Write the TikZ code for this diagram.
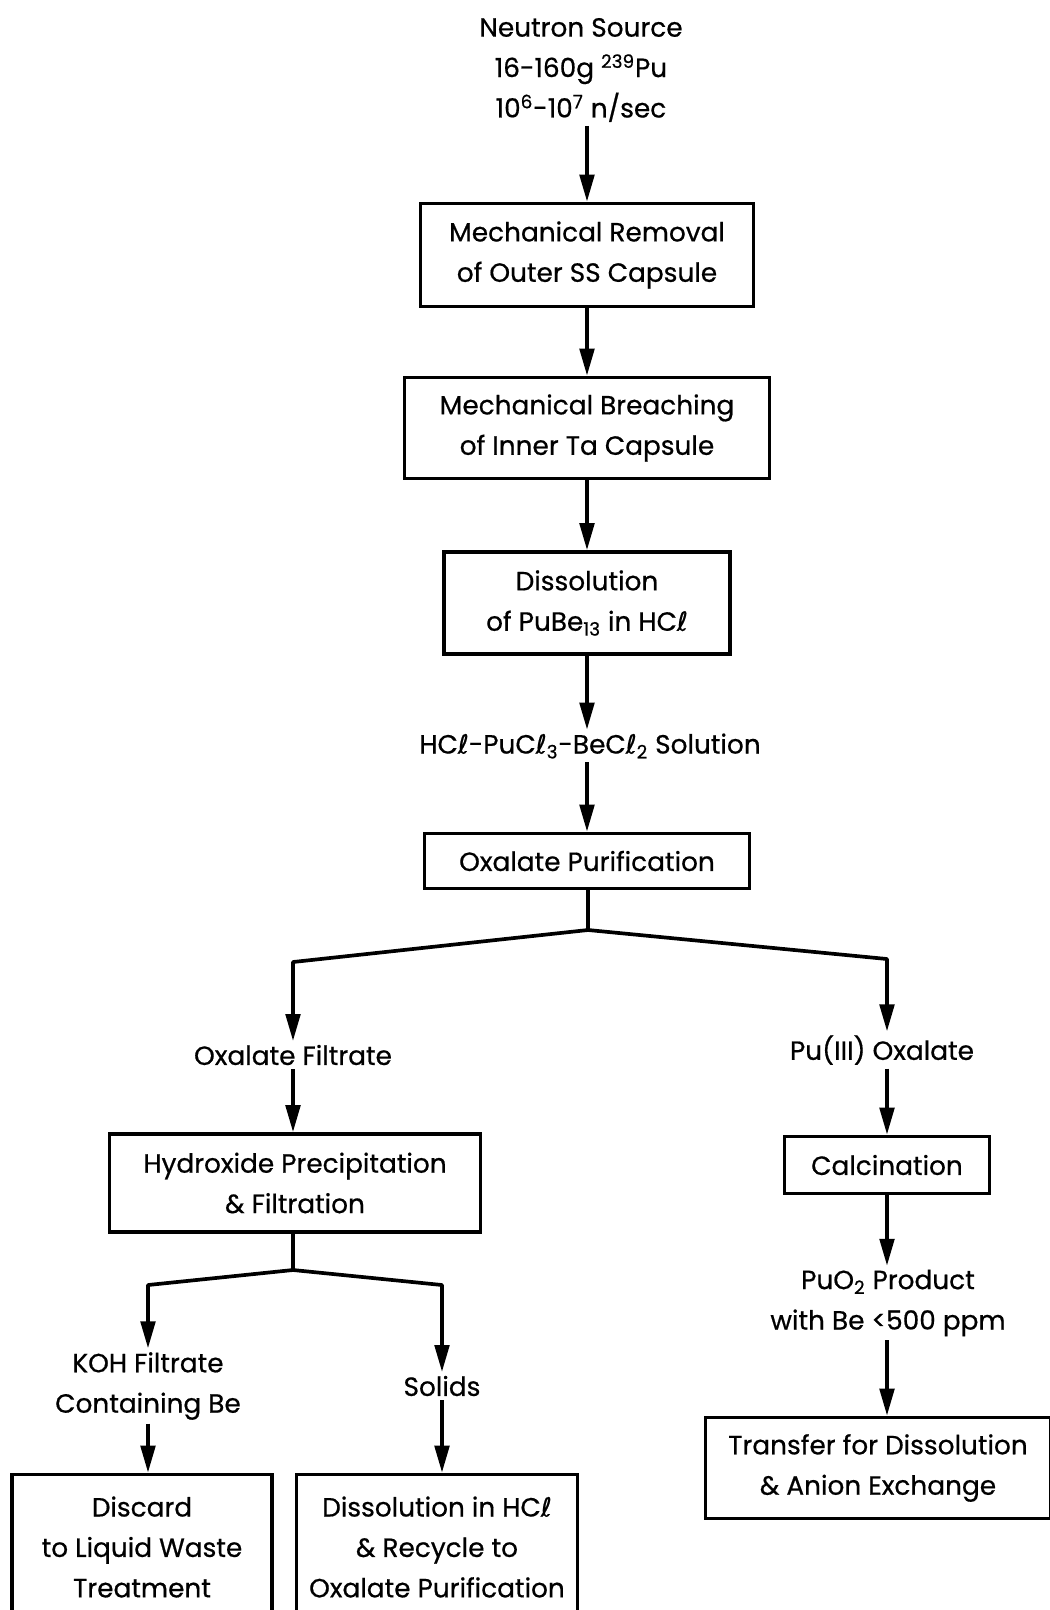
\documentclass[tikz,border=0pt]{standalone}
\usepackage{fontspec}
\setmainfont{Poppins}
\newfontfamily\flowface{Poppins}[FakeBold=0.6]
\newfontfamily\dejavu{DejaVu Sans}[FakeBold=0.6]
\usepackage{tikz}
\usetikzlibrary{arrows.meta,positioning,calc}
% script l used in the chloride formulas
\newcommand{\lsym}{{\dejavu ℓ}}
\newcommand{\flowfont}{\flowface\fontsize{15}{23}\selectfont}
\tikzset{
  stepbox/.style={draw, line width=2.1pt, align=center, inner sep=3pt, font=\flowfont},
  flowlabel/.style={align=center, inner sep=2pt, font=\flowfont},
  flowline/.style={line width=2.1pt, line join=round},
  flowarrow/.style={-{Triangle[length=5.4mm,width=2.9mm]}, line width=2.1pt, line join=round}
}

\begin{document}
\begin{tikzpicture}[x=0.02cm, y=-0.02cm]
\useasboundingbox (0,0) rectangle (1049,1610);
% main column
\node[flowlabel] (source) at (581,70) {Neutron Source\\16-160g \textsuperscript{239}Pu\\10\textsuperscript{6}-10\textsuperscript{7} n/sec};
\node[stepbox, minimum width=6.66cm, minimum height=2.06cm] (removal) at (587,255) {Mechanical Removal\\of Outer SS Capsule};
\node[stepbox, minimum width=7.3cm, minimum height=2.02cm] (breach) at (587,428) {Mechanical Breaching\\of Inner Ta Capsule};
\node[stepbox, minimum width=5.72cm, minimum height=2.04cm] (dissolve) at (587,603) {Dissolution\\of PuBe\textsubscript{13} in HC\lsym};
\node[flowlabel] (solution) at (590,746) {HC\lsym-PuC\lsym\textsubscript{3}-BeC\lsym\textsubscript{2} Solution};
\node[stepbox, minimum width=6.5cm, minimum height=1.1cm] (oxalate) at (587,861) {Oxalate Purification};
\coordinate (split) at (588,930);
\coordinate (splitL) at (293,962);
\coordinate (splitR) at (887,959);
% filtrate branch
\node[flowlabel] (filtrate) at (293,1055) {Oxalate Filtrate};
\node[stepbox, minimum width=7.42cm, minimum height=1.96cm] (hydroxide) at (295,1183) {Hydroxide Precipitation\\\& Filtration};
\coordinate (split2) at (293,1270);
\coordinate (split2L) at (148,1285);
\coordinate (split2R) at (442,1285);
\node[flowlabel] (koh) at (148,1386) {KOH Filtrate\\Containing Be};
\node[flowlabel] (solids) at (442,1386) {Solids};
\node[stepbox, minimum width=5.2cm, minimum height=2.9cm] (discard) at (142,1547) {Discard\\to Liquid Waste\\Treatment};
\node[stepbox, minimum width=5.62cm, minimum height=2.9cm] (recycle) at (437,1547) {Dissolution in HC\lsym\\\& Recycle to\\Oxalate Purification};
% product branch
\node[flowlabel] (puox) at (882,1050) {Pu(III) Oxalate};
\node[stepbox, minimum width=4.1cm, minimum height=1.14cm] (calcine) at (887,1165) {Calcination};
\node[flowlabel] (product) at (888,1303) {PuO\textsubscript{2} Product\\with Be <500 ppm};
\node[stepbox, minimum width=6.9cm, minimum height=2.02cm] (transfer) at (878,1468) {Transfer for Dissolution\\\& Anion Exchange};

\draw[flowarrow] (source.south -| removal) -- (removal);
\draw[flowarrow] (removal) -- (breach);
\draw[flowarrow] (breach) -- (dissolve);
\draw[flowarrow] (dissolve) -- (dissolve |- solution.north);
\draw[flowarrow] (solution.south -| oxalate) -- (oxalate);
\draw[flowline] (oxalate.south -| split) -- (split);
\draw[flowarrow] (split) -- (splitL) -- (splitL |- filtrate.north);
\draw[flowarrow] (split) -- (splitR) -- (splitR |- puox.north);
\draw[flowarrow] (filtrate.south -| splitL) -- (splitL |- hydroxide.north);
\draw[flowline] (hydroxide.south -| split2) -- (split2);
\draw[flowarrow] (split2) -- (split2L) -- (koh);
\draw[flowarrow] (split2) -- (split2R) -- (solids);
\draw[flowarrow] (koh.south) -- (koh.south |- discard.north);
\draw[flowarrow] (solids.south) -- (solids.south |- recycle.north);
\draw[flowarrow] (puox.south -| calcine) -- (calcine);
\draw[flowarrow] (calcine) -- (calcine |- product.north);
\draw[flowarrow] (product.south -| calcine) -- (calcine |- transfer.north);
\end{tikzpicture}
\end{document}
